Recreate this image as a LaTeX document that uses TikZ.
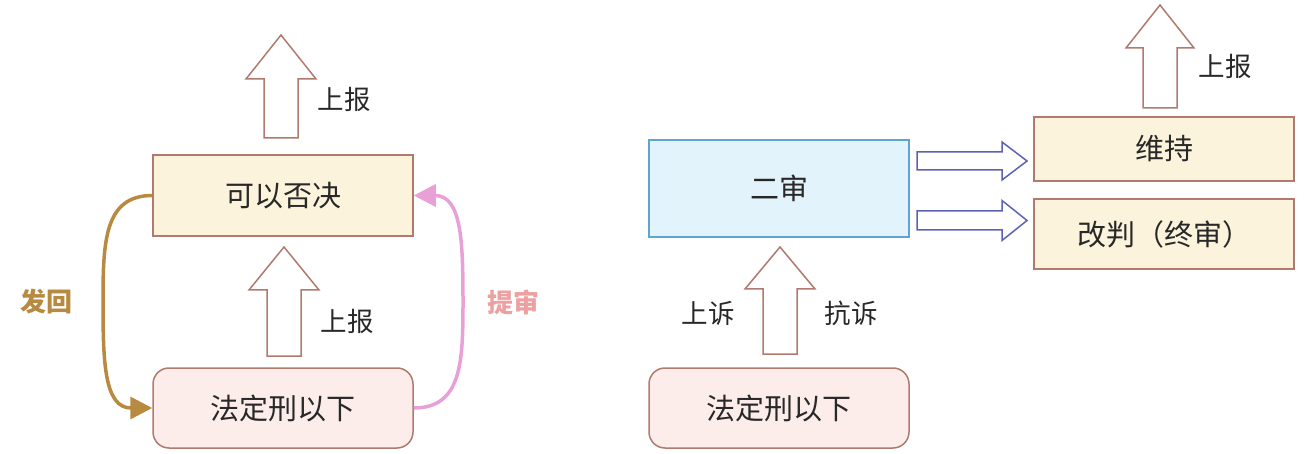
\documentclass[tikz,border=0pt]{standalone}
\usepackage{fontspec}
\setmainfont{Noto Sans CJK SC}
\usetikzlibrary{arrows.meta}
\definecolor{edgebrown}{RGB}{176,122,110}
\definecolor{fillyellow}{RGB}{251,243,220}
\definecolor{fillpink}{RGB}{252,237,235}
\definecolor{fillblue}{RGB}{227,243,251}
\definecolor{edgeblue}{RGB}{95,165,212}
\definecolor{arrowblue}{RGB}{92,98,178}
\definecolor{fahuicol}{RGB}{184,138,64}
\definecolor{tishencurve}{RGB}{233,160,216}
\definecolor{tishentext}{RGB}{236,160,160}
\definecolor{txt}{RGB}{40,40,40}
\tikzset{
  box/.style={draw=edgebrown, line width=1.5pt, minimum width=260pt, inner sep=0pt,
    text=txt, font=\fontsize{29}{33}\selectfont},
  yellowbox/.style={box, fill=fillyellow},
  pinkbox/.style={box, fill=fillpink, rounded corners=16pt},
  bluebox/.style={box, fill=fillblue, draw=edgeblue},
  lbl/.style={text=txt, font=\fontsize{26.5}{30}\selectfont, inner sep=0pt},
  boldlbl/.style={font=\fontsize{26}{30}\selectfont\bfseries, inner sep=0pt},
  blockarrow/.style={draw=edgebrown, fill=white, line width=1.5pt, line join=miter},
  sidearrow/.style={draw=arrowblue, fill=white, line width=1.5pt, line join=miter},
  curvearrow/.style={line width=3.5pt, -{Triangle[length=22pt,width=22pt]}},
}
\newcommand{\uparrowshape}[6]{% cx, tip y, head base y, bottom y, shaft half, head half
  \draw[blockarrow] ({#1-#5},#4) -- ({#1-#5},#3) -- ({#1-#6},#3) -- (#1,#2)
    -- ({#1+#6},#3) -- ({#1+#5},#3) -- ({#1+#5},#4) -- cycle;}
\newcommand{\rightarrowshape}[6]{% left x, base x, tip x, cy, shaft half, head half
  \draw[sidearrow] (#1,{#4-#5}) -- (#2,{#4-#5}) -- (#2,{#4-#6}) -- (#3,#4)
    -- (#2,{#4+#6}) -- (#2,{#4+#5}) -- (#1,{#4+#5}) -- cycle;}
\begin{document}
\begin{tikzpicture}[x=1pt, y=-1pt]
\useasboundingbox (0,0) rectangle (1306,454);
% ---------- left panel ----------
\node[yellowbox, minimum height=81pt] (veto) at (283,195.5) {可以否决};
\node[pinkbox, minimum height=80pt] (lowL) at (283,408) {法定刑以下};
\uparrowshape{281}{35}{79}{138}{17}{35}
\node[lbl] (sbA) at (344,99) {上报};
\uparrowshape{284}{247}{290}{356}{17}{35}
\node[lbl] (sbB) at (347,321) {上报};
\coordinate (fl) at (103,302);
\coordinate (fr) at (463,302);
\draw[curvearrow, draw=fahuicol]
  (veto.west) .. controls +(-48,0) and +(0,-60) .. (fl)
  .. controls +(0,60) and +(-48,0) .. (lowL.west);
\draw[curvearrow, draw=tishencurve]
  (lowL.east) .. controls +(48,0) and +(0,60) .. (fr)
  .. controls +(0,-60) and +(48,0) .. (veto.east);
\node[boldlbl, text=fahuicol] (fh) at (46,302) {发回};
\node[boldlbl, text=tishentext] (ts) at (513,302) {提审};
% ---------- right panel ----------
\node[bluebox, minimum height=97pt] (er) at (779,188.5) {二审};
\node[pinkbox, minimum height=80pt] (lowR) at (779,408) {法定刑以下};
\uparrowshape{780}{247}{289}{354}{17}{35}
\node[lbl] (ss) at (708,313) {上诉};
\node[lbl] (ks) at (851,313) {抗诉};
\node[yellowbox, minimum height=64pt] (wc) at (1164,149) {维持};
\node[yellowbox, minimum height=70pt] (gp) at (1164,234) {改判（终审）};
\rightarrowshape{917}{1002}{1027}{161}{9}{19}
\rightarrowshape{917}{1002}{1027}{220.5}{9.5}{20}
\uparrowshape{1160}{5}{48}{108}{17}{34}
\node[lbl] (sbC) at (1225,66) {上报};
\end{tikzpicture}
\end{document}
